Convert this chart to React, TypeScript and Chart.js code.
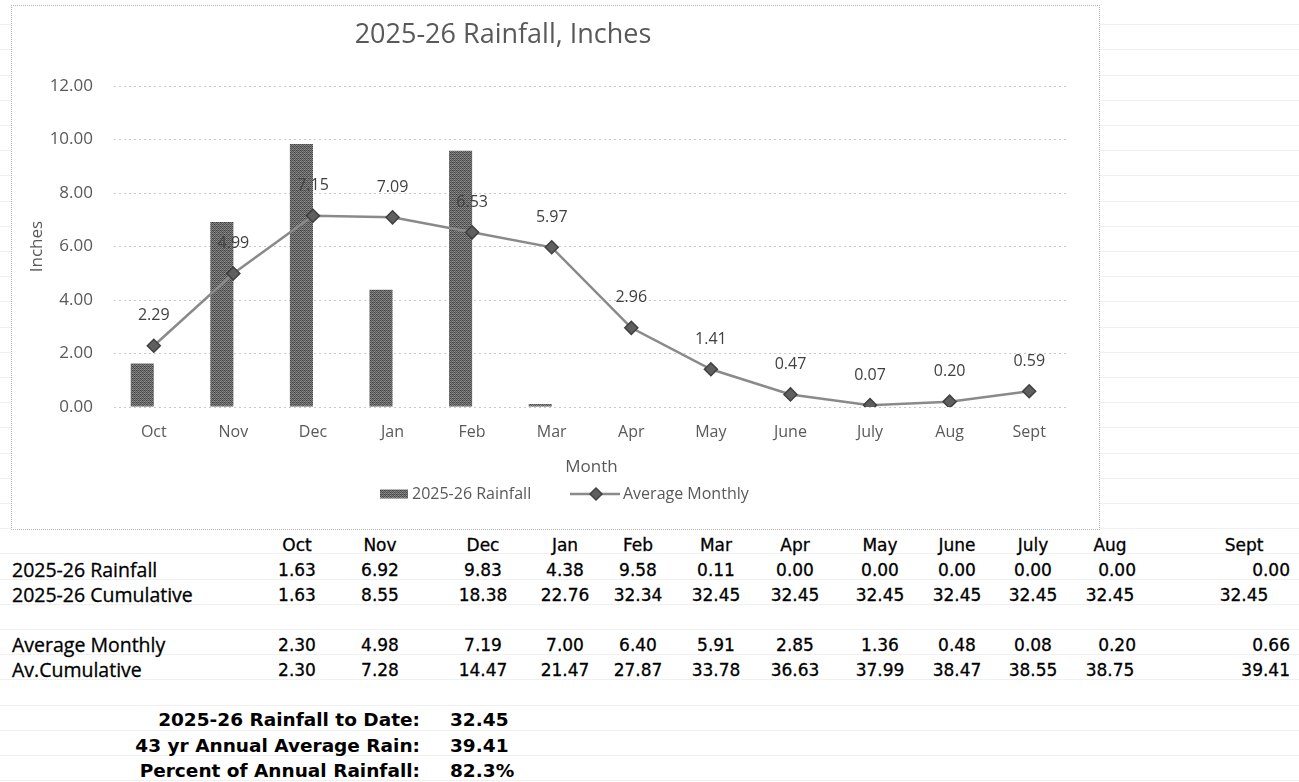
import React, { useEffect, useRef } from "react";
import { Chart, registerables } from "chart.js";

Chart.register(...registerables);

// ---------- data ----------
const months = ["Oct", "Nov", "Dec", "Jan", "Feb", "Mar", "Apr", "May", "June", "July", "Aug", "Sept"];
const rainfall = [1.63, 6.92, 9.83, 4.38, 9.58, 0.11, 0.0, 0.0, 0.0, 0.0, 0.0, 0.0];
const averageMonthlyChart = [2.29, 4.99, 7.15, 7.09, 6.53, 5.97, 2.96, 1.41, 0.47, 0.07, 0.2, 0.59];
const cumulative = [1.63, 8.55, 18.38, 22.76, 32.34, 32.45, 32.45, 32.45, 32.45, 32.45, 32.45, 32.45];
const averageMonthlyTable = [2.3, 4.98, 7.19, 7.0, 6.4, 5.91, 2.85, 1.36, 0.48, 0.08, 0.2, 0.66];
const avCumulative = [2.3, 7.28, 14.47, 21.47, 27.87, 33.78, 36.63, 37.99, 38.47, 38.55, 38.75, 39.41];
const yMin = 0;
const yMax = 12;
const yStep = 2;
const chartTitle = "2025-26 Rainfall, Inches";
const xTitle = "Month";
const yTitle = "Inches";
const barLabel = "2025-26 Rainfall";
const lineLabel = "Average Monthly";
const rowLabels = ["2025-26 Rainfall", "2025-26 Cumulative", "Average Monthly", "Av.Cumulative"];
const summaryLabels = ["2025-26 Rainfall to Date:", "43 yr Annual Average Rain:", "Percent of Annual Rainfall:"];
const summaryValues = ["32.45", "39.41", "82.3%"];

// ---------- layout (page coords) ----------
const BOX = { left: 12, top: 6, width: 1087, height: 523 };
const colCenters = [297, 380, 483, 565, 638, 716, 795, 880, 957, 1033, 1110, 1244];
const rowY = { header: 545, r1: 570, r2: 595, r3: 645, r4: 670, s1: 720, s2: 746, s3: 771 };
const rowRight: Record<string, Record<number, number>> = {
  r1: { 10: 1136, 11: 1290 },
  r2: {},
  r3: { 10: 1136, 11: 1290 },
  r4: { 11: 1290 },
};

const BAR_COLOR = "#707070";
const LINE_COLOR = "#8a8a8a";
const TEXT_GREY = "#595959";
const SANS = '"Open Sans", sans-serif';

function makeBarPattern(): CanvasPattern | string {
  const c = document.createElement("canvas");
  c.width = 4;
  c.height = 4;
  const g = c.getContext("2d");
  if (!g) return BAR_COLOR;
  const bayer = [
    [0, 8, 2, 10],
    [12, 4, 14, 6],
    [3, 11, 1, 9],
    [15, 7, 13, 5],
  ];
  for (let y = 0; y < 4; y++) {
    for (let x = 0; x < 4; x++) {
      const v = 60 + bayer[y][x] * 6;
      g.fillStyle = `rgb(${v},${v},${v})`;
      g.fillRect(x, y, 1, 1);
    }
  }
  const p = g.createPattern(c, "repeat");
  return p || BAR_COLOR;
}

function ChartCanvas() {
  const ref = useRef<HTMLCanvasElement | null>(null);
  useEffect(() => {
    const canvas = ref.current;
    if (!canvas) return;
    const pattern = makeBarPattern();

    const titlePlugin = {
      id: "customTitle",
      afterDraw(chart: any) {
        const ctx = chart.ctx;
        ctx.save();
        ctx.font = `27px ${SANS}`;
        ctx.fillStyle = TEXT_GREY;
        ctx.textAlign = "center";
        ctx.textBaseline = "middle";
        ctx.fillText(chartTitle, 491, 29);
        ctx.restore();
      },
    };

    const labelPlugin = {
      id: "pointLabels",
      afterDatasetsDraw(chart: any) {
        const ctx = chart.ctx;
        const idx = chart.data.datasets.findIndex((d: any) => d.type === "line");
        const meta = chart.getDatasetMeta(idx);
        const data = chart.data.datasets[idx].data as number[];
        ctx.save();
        ctx.font = `16px ${SANS}`;
        ctx.fillStyle = "#404040";
        ctx.textAlign = "center";
        ctx.textBaseline = "middle";
        meta.data.forEach((pt: any, i: number) => {
          ctx.fillText(data[i].toFixed(2), pt.x, pt.y - 30);
        });
        ctx.restore();
      },
    };

    const legendPlugin = {
      id: "customLegend",
      afterDraw(chart: any) {
        const ctx = chart.ctx;
        const y = 488;
        ctx.save();
        ctx.font = `16px ${SANS}`;
        ctx.textBaseline = "middle";
        ctx.textAlign = "left";
        // bar item
        ctx.fillStyle = pattern as any;
        ctx.fillRect(368, y - 4.5, 28, 9);
        ctx.fillStyle = TEXT_GREY;
        ctx.fillText(barLabel, 400, y);
        // line item
        ctx.strokeStyle = LINE_COLOR;
        ctx.lineWidth = 2.5;
        ctx.beginPath();
        ctx.moveTo(558, y);
        ctx.lineTo(608, y);
        ctx.stroke();
        ctx.beginPath();
        const cx = 584;
        const r = 6;
        ctx.moveTo(cx, y - r);
        ctx.lineTo(cx + r, y);
        ctx.lineTo(cx, y + r);
        ctx.lineTo(cx - r, y);
        ctx.closePath();
        ctx.fillStyle = "#5f5f5f";
        ctx.fill();
        ctx.strokeStyle = "#404040";
        ctx.lineWidth = 1.5;
        ctx.stroke();
        ctx.fillStyle = TEXT_GREY;
        ctx.fillText(lineLabel, 611, y);
        ctx.restore();
      },
    };

    const chart = new Chart(canvas, {
      type: "bar",
      data: {
        labels: months,
        datasets: [
          {
            type: "bar",
            label: barLabel,
            data: rainfall,
            backgroundColor: pattern as any,
            borderWidth: 0,
            categoryPercentage: 0.58,
            barPercentage: 1,
            order: 2,
          },
          {
            type: "bar",
            label: "spacer",
            data: months.map(() => null),
            backgroundColor: "transparent",
            categoryPercentage: 0.58,
            barPercentage: 1,
            order: 3,
          },
          {
            type: "line",
            label: lineLabel,
            data: averageMonthlyChart,
            borderColor: LINE_COLOR,
            borderWidth: 2.5,
            pointStyle: "rectRot",
            pointRadius: 6.5,
            pointBackgroundColor: "#5f5f5f",
            pointBorderColor: "#404040",
            pointBorderWidth: 1.5,
            tension: 0,
            order: 0,
          } as any,
        ],
      },
      options: {
        responsive: false,
        animation: false,
        devicePixelRatio: 1,
        layout: { padding: { top: 80, left: 0, right: 30, bottom: 52 } },
        plugins: {
          legend: { display: false },
          title: { display: false },
          tooltip: { enabled: false },
        },
        scales: {
          x: {
            grid: { display: false, drawTicks: false },
            border: { display: false },
            ticks: {
              padding: 16,
              color: TEXT_GREY,
              font: { family: SANS, size: 16 },
            },
            title: {
              display: true,
              text: xTitle,
              color: TEXT_GREY,
              font: { family: SANS, size: 17 },
              padding: { top: 0, bottom: 0 },
            },
            afterFit(scale: any) {
              scale.height = 70;
            },
          },
          y: {
            min: yMin,
            max: yMax,
            ticks: {
              stepSize: yStep,
              padding: 21,
              color: TEXT_GREY,
              font: { family: SANS, size: 17 },
              callback: (v: any) => Number(v).toFixed(2),
            },
            grid: { color: "#c8c8c8", lineWidth: 1, drawTicks: false },
            border: { display: false, dash: [2, 3] },
            title: {
              display: true,
              text: yTitle,
              color: TEXT_GREY,
              font: { family: SANS, size: 17 },
              padding: { top: 15, bottom: 15 },
            },
            afterFit(scale: any) {
              scale.width = 102;
            },
          },
        },
      },
      plugins: [titlePlugin, labelPlugin, legendPlugin],
    });
    return () => chart.destroy();
  }, []);

  return (
    <canvas
      ref={ref}
      width={BOX.width}
      height={BOX.height}
      style={{ display: "block", width: BOX.width, height: BOX.height }}
    />
  );
}

const numFont = '"DejaVu Sans", Verdana, sans-serif';
const labelFont = '"Open Sans", sans-serif';

function Cell(props: { x: number; y: number; text: string; right?: boolean; bold?: boolean; size?: number }) {
  const { x, y, text, right, bold, size } = props;
  const style: React.CSSProperties = {
    position: "absolute",
    top: y - 13,
    height: 26,
    lineHeight: "26px",
    whiteSpace: "nowrap",
    fontFamily: numFont,
    fontSize: size || 17,
    fontWeight: bold ? 700 : 400,
    color: "#000",
    WebkitTextStroke: bold ? "0px" : "0.3px #000",
  };
  if (right) {
    style.right = 1299 - x;
    style.textAlign = "right";
  } else {
    style.left = x - 60;
    style.width = 120;
    style.textAlign = "center";
  }
  return <div style={style}>{text}</div>;
}

function numRow(values: number[], y: number, key: string) {
  const overrides = rowRight[key] || {};
  return values.map((v, i) => {
    const t = v.toFixed(2);
    if (overrides[i] !== undefined) {
      return <Cell key={key + i} x={overrides[i]} y={y} text={t} right />;
    }
    return <Cell key={key + i} x={colCenters[i]} y={y} text={t} />;
  });
}

export default function App() {
  const labelStyle = (y: number): React.CSSProperties => ({
    position: "absolute",
    left: 12,
    top: y - 13,
    height: 26,
    lineHeight: "26px",
    fontFamily: labelFont,
    fontSize: 19.5,
    fontWeight: 500,
    color: "#000",
    whiteSpace: "nowrap",
    WebkitTextStroke: "0.3px #000",
  });
  return (
    <div
      style={{
        position: "absolute",
        left: 0,
        top: 0,
        width: 1299,
        height: 782,
        overflow: "hidden",
        background: "#fff",
        backgroundImage:
          "repeating-linear-gradient(to bottom, transparent 0px, transparent 24.2px, #f0f0f0 24.2px, #f0f0f0 25.2px)",
      }}
    >
      <div
        style={{
          position: "absolute",
          left: BOX.left - 1,
          top: BOX.top - 1,
          width: BOX.width,
          height: BOX.height,
          border: "1px dotted #b5b5b5",
          background: "#fff",
        }}
      >
        <ChartCanvas />
      </div>

      {months.map((m, i) => (
        <Cell key={"h" + i} x={colCenters[i]} y={rowY.header} text={m} />
      ))}

      <div style={labelStyle(rowY.r1)}>{rowLabels[0]}</div>
      {numRow(rainfall, rowY.r1, "r1")}
      <div style={labelStyle(rowY.r2)}>{rowLabels[1]}</div>
      {numRow(cumulative, rowY.r2, "r2")}
      <div style={labelStyle(rowY.r3)}>{rowLabels[2]}</div>
      {numRow(averageMonthlyTable, rowY.r3, "r3")}
      <div style={labelStyle(rowY.r4)}>{rowLabels[3]}</div>
      {numRow(avCumulative, rowY.r4, "r4")}

      {[rowY.s1, rowY.s2, rowY.s3].map((y, i) => (
        <React.Fragment key={"s" + i}>
          <Cell x={420} y={y} text={summaryLabels[i]} right bold size={18.5} />
          <div
            style={{
              position: "absolute",
              left: 450,
              top: y - 13,
              height: 26,
              lineHeight: "26px",
              fontFamily: numFont,
              fontWeight: 700,
              fontSize: 18.5,
              color: "#000",
            }}
          >
            {summaryValues[i]}
          </div>
        </React.Fragment>
      ))}
    </div>
  );
}
